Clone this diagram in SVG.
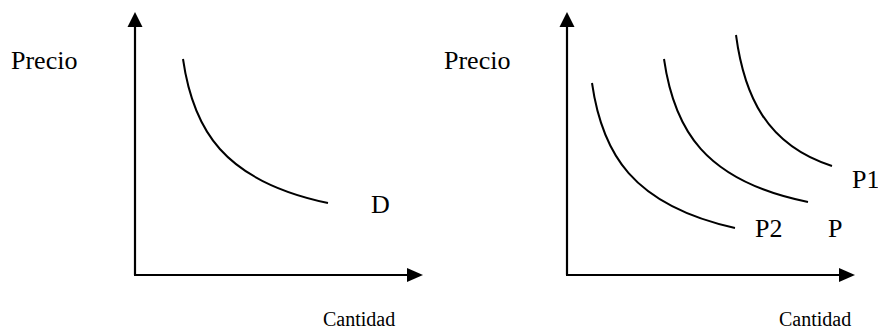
<svg xmlns="http://www.w3.org/2000/svg" width="878" height="332" viewBox="0 0 878 332">
<style>
.ax{stroke:#000;stroke-width:2.2;fill:none}
.cv{stroke:#000;stroke-width:2;fill:none}
text{font-family:'Liberation Serif','Times New Roman',Times,serif;fill:#000}
.lbl{font-size:26px}
.sm{font-size:20px}
.hd{fill:#000;stroke:none}
</style>
<rect width="878" height="332" fill="#fff"/>
<g id="left-chart">
  <g id="left-axes">
    <line class="ax" x1="135" y1="275" x2="135" y2="26"/>
    <polygon class="hd" points="135,12 127.5,27 142.5,27"/>
    <line class="ax" x1="134" y1="275" x2="408" y2="275"/>
    <polygon class="hd" points="423,275 407,268 407,282"/>
  </g>
  <g id="curve-D">
    <path class="cv" d="M183,59 C193,129 223,181 328,203"/>
    <text class="lbl" x="371" y="213" font-family="Liberation Serif, serif">D</text>
  </g>
  <text class="lbl" x="11" y="69" font-family="Liberation Serif, serif">Precio</text>
  <text class="sm" x="323" y="326" font-family="Liberation Serif, serif">Cantidad</text>
</g>
<g id="right-chart">
  <g id="right-axes">
    <line class="ax" x1="567" y1="275" x2="567" y2="26"/>
    <polygon class="hd" points="567,12 559.5,27 574.5,27"/>
    <line class="ax" x1="566" y1="275" x2="840" y2="275"/>
    <polygon class="hd" points="855,275 839,268 839,282"/>
  </g>
  <g id="curve-P2">
    <path class="cv" d="M592,83 C602,153 632,205 735,228"/>
    <text class="lbl" x="755" y="237" font-family="Liberation Serif, serif">P2</text>
  </g>
  <g id="curve-P">
    <path class="cv" d="M664,59 C674,129 704,181 808,202"/>
    <text class="lbl" x="828" y="237" font-family="Liberation Serif, serif">P</text>
  </g>
  <g id="curve-P1">
    <path class="cv" d="M736,35 C744,95 766,145 832,166"/>
    <text class="lbl" x="852" y="188" font-family="Liberation Serif, serif">P1</text>
  </g>
  <text class="lbl" x="444" y="69" font-family="Liberation Serif, serif">Precio</text>
  <text class="sm" x="779" y="326" font-family="Liberation Serif, serif">Cantidad</text>
</g>
</svg>
